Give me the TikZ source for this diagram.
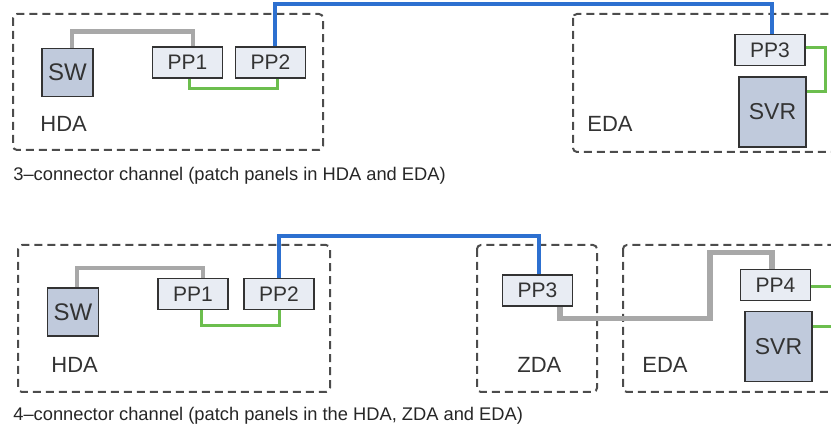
\documentclass[tikz,border=0pt]{standalone}
\usepackage{fontspec}
\setmainfont{Liberation Sans}
\usetikzlibrary{calc}
\definecolor{cblue}{RGB}{45,112,208}
\definecolor{cgrey}{RGB}{168,168,168}
\definecolor{cgreen}{RGB}{108,190,78}
\definecolor{unitfill}{RGB}{192,202,220}
\definecolor{ppfill}{RGB}{232,236,243}
\tikzset{
    unitbox/.style = {rectangle,
                    fill=unitfill,
                    draw=black!80,
                    text=black!80,
                    line width=0.8pt,
                    inner sep=0pt},
    swbox/.style =  {unitbox,
                    minimum width=25.5pt,
                    minimum height=24pt,
                    font=\fontsize{12}{14}\selectfont},
    svrbox/.style = {unitbox,
                    minimum width=33.5pt,
                    minimum height=35pt,
                    font=\fontsize{11.5}{13}\selectfont},
    ppbox/.style =  {unitbox,
                    fill=ppfill,
                    minimum width=35pt,
                    minimum height=15.5pt,
                    font=\fontsize{10.5}{12}\selectfont},
    -,
    zone/.style =   {draw=black!70,
                    dash pattern=on 4pt off 2.5pt,
                    line width=1pt,
                    rounded corners=2pt},
    zonename/.style = {anchor=base west,
                    inner sep=0pt,
                    text=black!80,
                    font=\fontsize{11}{13}\selectfont},
    channel/.style = {anchor=base west,
                    inner sep=0pt,
                    text=black!85,
                    font=\fontsize{9.15}{10}\selectfont},
    -,
    bluecable/.style  = {draw=cblue, line width=2pt},
    greycable/.style  = {draw=cgrey, line width=2.2pt},
    greencable/.style = {draw=cgreen, line width=1.5pt}}

\begin{document}
\begin{tikzpicture}[x=0.5pt,y=-0.5pt]
                \useasboundingbox (0,0) rectangle (831,427);
                \clip (0,0) rectangle (831,427);

                % 3-connector channel
                \draw[zone] (13,14) rectangle (323,150);
                \draw[zone] (573,14) rectangle (860,152);

                \node[swbox]    (SWa)   at (67.5,72.5)  {SW};
                \node[ppbox]    (PPa1)  at (187.5,62.5) {PP1};
                \node[ppbox]    (PPa2)  at (270.5,62.5) {PP2};
                \node[ppbox]    (PPa3)  at (770,50)     {PP3};
                \node[svrbox]   (SVRa)  at (772.5,112)  {SVR};
                \node[zonename] (HDAa)  at (40,132)     {HDA};
                \node[zonename] (EDAa)  at (587,132)    {EDA};
                \node[channel]  (CHa)   at (13,181)     {3–connector channel (patch panels in HDA and EDA)};

                \draw[greycable]  ([xshift=2.25pt]SWa.north) -- ++(0,-16) -| ([xshift=2.75pt]PPa1.north);
                \draw[greencable] ([xshift=0.75pt]PPa1.south) -- ++(0,10) -| ([xshift=3.25pt]PPa2.south);
                \draw[bluecable]  ([xshift=2.25pt]PPa2.north) -- ++(0,-42) -| ([xshift=1pt]PPa3.north);
                \draw[greencable] ([yshift=1pt]PPa3.east) -- ++(20,0) |- ([yshift=10pt]SVRa.east);

                % 4-connector channel
                \draw[zone] (18,245) rectangle (330,392);
                \draw[zone] (477,245) rectangle (597,392);
                \draw[zone] (623,245) rectangle (860,392);

                \node[swbox]    (SWb)   at (73,312)     {SW};
                \node[ppbox]    (PPb1)  at (193,294)    {PP1};
                \node[ppbox]    (PPb2)  at (279,294)    {PP2};
                \node[ppbox]    (PPb3)  at (537.5,290.5) {PP3};
                \node[ppbox]    (PPb4)  at (775.5,285)  {PP4};
                \node[svrbox]   (SVRb)  at (778.5,346.5) {SVR};
                \node[zonename] (HDAb)  at (51,373)     {HDA};
                \node[zonename] (ZDAb)  at (517,373)    {ZDA};
                \node[zonename] (EDAb)  at (642,373)    {EDA};
                \node[channel]  (CHb)   at (13,421)     {4–connector channel (patch panels in the HDA, ZDA and EDA)};

                \draw[greycable]  ([xshift=2pt]SWb.north) -- ++(0,-19) -| ([xshift=5pt]PPb1.north);
                \draw[greencable] ([xshift=4pt]PPb1.south) -- ++(0,15) -| (PPb2.south);
                \draw[bluecable]  (PPb2.north) -- ++(0,-42) -| ([xshift=0.75pt]PPb3.north);
                \draw[greycable,line width=2.6pt] ([xshift=11.25pt]PPb3.south) -- ++(0,12) -- ++(150,0)
                                        -- ++(0,-66) -| ([xshift=-1.75pt]PPb4.north);
                \draw[greencable] ([yshift=-1pt]PPb4.east) -- ++(25,0) |- ([yshift=9.75pt]SVRb.east);
\end{tikzpicture}
\end{document}
